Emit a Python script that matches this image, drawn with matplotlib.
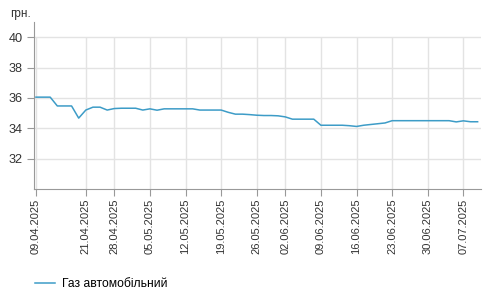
import matplotlib
matplotlib.use("Agg")
import matplotlib.pyplot as plt

plt.rcParams['font.family'] = ['Liberation Sans', 'DejaVu Sans']

# дати (робочі дні) і ціни
dates = ["09.04.2025", "10.04.2025", "11.04.2025", "14.04.2025", "15.04.2025", "16.04.2025",
         "17.04.2025", "21.04.2025", "22.04.2025", "23.04.2025", "24.04.2025", "28.04.2025",
         "29.04.2025", "30.04.2025", "01.05.2025", "02.05.2025", "05.05.2025", "06.05.2025",
         "07.05.2025", "08.05.2025", "09.05.2025", "12.05.2025", "13.05.2025", "14.05.2025",
         "15.05.2025", "16.05.2025", "19.05.2025", "20.05.2025", "21.05.2025", "22.05.2025",
         "23.05.2025", "26.05.2025", "27.05.2025", "28.05.2025", "29.05.2025", "02.06.2025",
         "03.06.2025", "04.06.2025", "05.06.2025", "06.06.2025", "09.06.2025", "10.06.2025",
         "11.06.2025", "12.06.2025", "13.06.2025", "16.06.2025", "17.06.2025", "18.06.2025",
         "19.06.2025", "20.06.2025", "23.06.2025", "24.06.2025", "25.06.2025", "26.06.2025",
         "27.06.2025", "30.06.2025", "01.07.2025", "02.07.2025", "03.07.2025", "04.07.2025",
         "07.07.2025", "08.07.2025", "09.07.2025"]
gas = [36.05, 36.05, 36.05, 35.47, 35.47, 35.47, 34.67, 35.20, 35.39, 35.39,
       35.20, 35.30, 35.32, 35.32, 35.32, 35.20, 35.28, 35.19, 35.28, 35.28,
       35.28, 35.28, 35.28, 35.20, 35.20, 35.20, 35.20, 35.05, 34.93, 34.93,
       34.90, 34.86, 34.84, 34.84, 34.82, 34.75, 34.60, 34.60, 34.60, 34.60,
       34.20, 34.20, 34.20, 34.20, 34.17, 34.12, 34.20, 34.25, 34.30, 34.35,
       34.50, 34.50, 34.50, 34.50, 34.50, 34.50, 34.50, 34.50, 34.50, 34.42,
       34.49, 34.43, 34.43]
tick_dates = ["09.04.2025", "21.04.2025", "28.04.2025", "05.05.2025", "12.05.2025",
              "19.05.2025", "26.05.2025", "02.06.2025", "09.06.2025", "16.06.2025",
              "23.06.2025", "30.06.2025", "07.07.2025"]
y_ticks = [32, 34, 36, 38, 40]

fig = plt.figure(figsize=(4.9, 3.01), dpi=100)
ax = fig.add_axes([0.069, 0.372, 0.913, 0.555])

x = list(range(len(dates)))
line, = ax.plot(x, gas, color="#3d9cc7", lw=1.1, label="Газ автомобільний", zorder=3)

tick_pos = [dates.index(d) for d in tick_dates]
ax.set_xticks(tick_pos)
ax.set_xticklabels(tick_dates, rotation=90, fontsize=8, color="#333333")
ax.set_yticks(y_ticks)
ax.set_yticklabels([str(v) for v in y_ticks], fontsize=9.2, color="#333333")
ax.set_xlim(-0.3, len(dates) - 0.5)
ax.set_ylim(30, 41)

# сітка
for v in y_ticks:
    ax.axhline(v, color="#e3e3e3", lw=1, zorder=1)
ax.vlines(tick_pos, 30, max(y_ticks), color="#e3e3e3", lw=1, zorder=1)

for s in ["top", "right"]:
    ax.spines[s].set_visible(False)
for s in ["left", "bottom"]:
    ax.spines[s].set_color("#999999")
ax.tick_params(axis="x", length=5, color="#999999", pad=2)
ax.tick_params(axis="y", length=5, color="#999999", pad=3)

fig.text(0.02, 0.945, "грн.", fontsize=8.5, color="#333333")

fig.legend(handles=[line], loc="lower left", bbox_to_anchor=(0.05, 0.0),
           frameon=False, fontsize=8.7, handlelength=1.6, handletextpad=0.6)

fig.savefig("out.png", dpi=100)
